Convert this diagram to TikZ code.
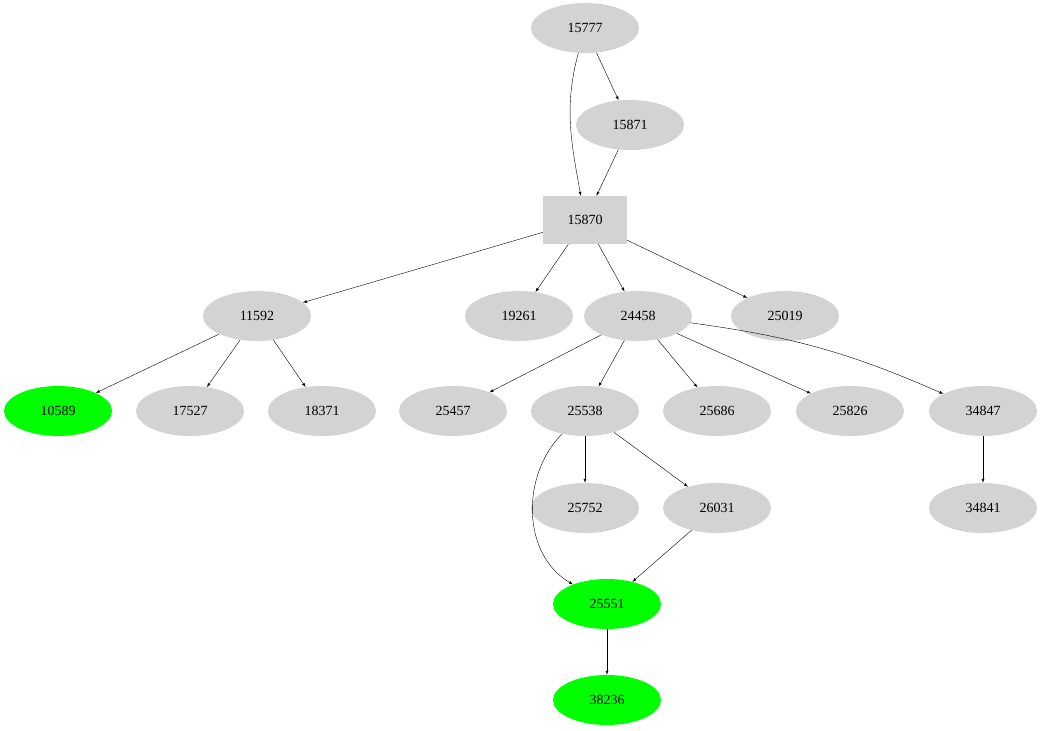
\documentclass[tikz,border=0pt]{standalone}
\usepackage{fontspec}
\setmainfont{Liberation Serif}
\usetikzlibrary{shapes.geometric}
\definecolor{lgray}{HTML}{D3D3D3}
\definecolor{hit}{HTML}{00FF00}
\tikzset{
  pid/.style={ellipse, fill=lgray, minimum width=108pt, minimum height=50pt, inner sep=0pt, font=\fontsize{14}{16}\selectfont},
  hitpid/.style={pid, fill=hit},
  rootpid/.style={rectangle, fill=lgray, minimum width=84pt, minimum height=48pt, inner sep=0pt, font=\fontsize{14}{16}\selectfont},
  edge/.style={draw, ->, >=latex}
}
\begin{document}
\begin{tikzpicture}[x=1pt,y=-1pt]
\useasboundingbox (0,0) rectangle (1042,731);
\node[pid] (15777) at (585,28) {15777};
\node[pid] (15871) at (630,125) {15871};
\node[rootpid] (15870) at (585,220) {15870};
\node[pid] (11592) at (257,316) {11592};
\node[pid] (19261) at (519,316) {19261};
\node[pid] (24458) at (638,316) {24458};
\node[pid] (25019) at (785,316) {25019};
\node[hitpid] (10589) at (58,411) {10589};
\node[pid] (17527) at (190,411) {17527};
\node[pid] (18371) at (322,411) {18371};
\node[pid] (25457) at (453,411) {25457};
\node[pid] (25538) at (585,411) {25538};
\node[pid] (25686) at (717,411) {25686};
\node[pid] (25826) at (850,411) {25826};
\node[pid] (34847) at (983,411) {34847};
\node[pid] (25752) at (585,508) {25752};
\node[pid] (26031) at (717,508) {26031};
\node[pid] (34841) at (983,508) {34841};
\node[hitpid] (25551) at (607,604) {25551};
\node[hitpid] (38236) at (607,700) {38236};

\path[edge] (15777) to[out=-105,in=100] (15870);
\path[edge] (15777) -- (15871);
\path[edge] (15871) -- (15870);
\path[edge] (15870) -- (11592);
\path[edge] (15870) -- (19261);
\path[edge] (15870) -- (24458);
\path[edge] (15870) -- (25019);
\path[edge] (11592) -- (10589);
\path[edge] (11592) -- (17527);
\path[edge] (11592) -- (18371);
\path[edge] (24458) -- (25457);
\path[edge] (24458) -- (25538);
\path[edge] (24458) -- (25686);
\path[edge] (24458) -- (25826);
\path[edge] (24458) to[bend left=8] (34847);
\path[edge] (25538) -- (25752);
\path[edge] (25538) -- (26031);
\path[edge] (25538) to[out=-135,in=150] (25551);
\path[edge] (26031) -- (25551);
\path[edge] (34847) -- (34841);
\path[edge] (25551) -- (38236);
\end{tikzpicture}
\end{document}
